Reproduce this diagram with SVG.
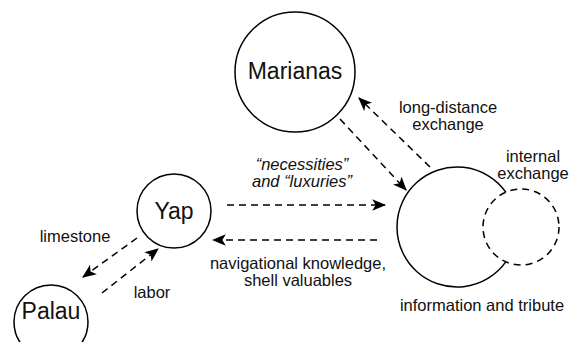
<svg xmlns="http://www.w3.org/2000/svg" width="580" height="342" viewBox="0 0 580 342">
<style>
.node{fill:none;stroke:#000;stroke-width:1.5}
.dash{fill:none;stroke:#000;stroke-width:1.5;stroke-dasharray:7 5}
.big{font-family:"Liberation Sans",Arial,sans-serif;font-size:23px;fill:#111;text-anchor:middle}
.lbl{font-family:"Liberation Sans",Arial,sans-serif;font-size:16.5px;fill:#111;text-anchor:middle}
.it{font-style:italic}
.conn{fill:none;stroke:#000;stroke-width:1.5;stroke-dasharray:7 5;marker-end:url(#arr)}
</style>
<defs>
<marker id="arr" markerUnits="userSpaceOnUse" markerWidth="14" markerHeight="12" viewBox="0 0 12 10" refX="11" refY="5" orient="auto">
<path d="M0,0 L12,5 L0,10 L3,5 z" fill="#000"/>
</marker>
</defs>
<rect width="580" height="342" fill="#fff"/>
<g id="connectors">
<line class="conn" x1="340" y1="119" x2="406" y2="190"/>
<line class="conn" x1="430" y1="167" x2="359" y2="98"/>
<line class="conn" x1="227" y1="205" x2="385" y2="205"/>
<line class="conn" x1="377" y1="240" x2="213" y2="240"/>
<line class="conn" x1="137" y1="238" x2="83" y2="277"/>
<line class="conn" x1="102" y1="293" x2="158" y2="249"/>
</g>
<g id="marianas">
<circle class="node" cx="295" cy="72" r="60"/>
<text class="big" x="295" y="79">Marianas</text>
</g>
<g id="yap">
<circle class="node" cx="174" cy="211" r="37"/>
<text class="big" x="174" y="219">Yap</text>
</g>
<g id="palau">
<circle class="node" cx="51" cy="322" r="37"/>
<text class="big" x="51" y="319">Palau</text>
</g>
<g id="center">
<path class="node" d="M505.8,192.1 A60,60 0 1,0 505.8,261.9"/>
<text class="lbl" x="482" y="311">information and tribute</text>
</g>
<g id="internal">
<circle class="dash" cx="521" cy="227" r="38"/>
<text class="lbl" x="533" y="162"><tspan x="533">internal</tspan><tspan x="533" dy="17">exchange</tspan></text>
</g>
<g id="labels">
<text class="lbl" x="448" y="113"><tspan x="448">long-distance</tspan><tspan x="448" dy="17">exchange</tspan></text>
<text class="lbl it" x="302" y="170"><tspan x="302">“necessities”</tspan><tspan x="302" dy="17">and “luxuries”</tspan></text>
<text class="lbl" x="298" y="269"><tspan x="298">navigational knowledge,</tspan><tspan x="298" dy="17">shell valuables</tspan></text>
<text class="lbl" x="75" y="242">limestone</text>
<text class="lbl" x="152" y="298">labor</text>
</g>
</svg>
